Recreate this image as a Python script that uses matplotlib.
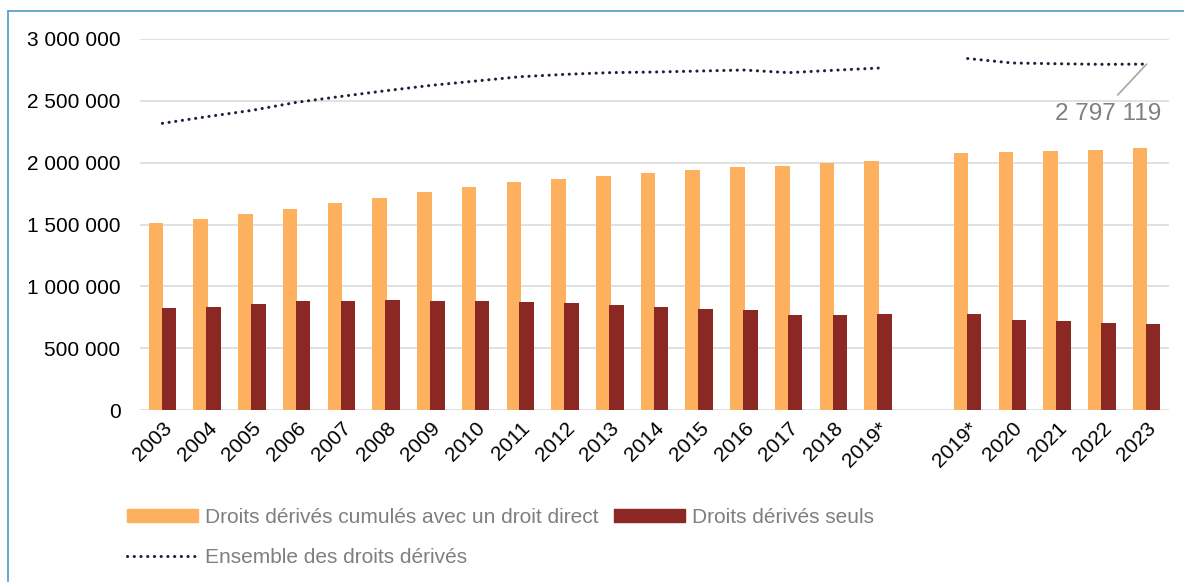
import numpy as np
from matplotlib import pyplot as plt
from matplotlib.ticker import FuncFormatter
from matplotlib.lines import Line2D

plt.rcParams['font.family'] = ['Liberation Sans', 'DejaVu Sans']

# categories (empty slot separates the two series of 2019*)
annees = ['2003', '2004', '2005', '2006', '2007', '2008', '2009', '2010', '2011',
          '2012', '2013', '2014', '2015', '2016', '2017', '2018', '2019*', '',
          '2019*', '2020', '2021', '2022', '2023']

# droits derives cumules avec un droit direct
cumules = [1510000, 1547000, 1585000, 1625000, 1674000, 1714000, 1763000, 1803000,
           1844000, 1868000, 1895000, 1916000, 1941000, 1962000, 1976000, 1995000,
           2013000, np.nan, 2078000, 2084000, 2094000, 2100000, 2119000]

# droits derives seuls
seuls = [822000, 833000, 860000, 879000, 881000, 887000, 881000, 879000, 871000,
         863000, 849000, 833000, 819000, 806000, 766000, 771000, 773000, np.nan,
         779000, 728000, 717000, 701000, 695000]

# ensemble des droits derives
ensemble = [2318000, 2372000, 2423000, 2488000, 2536000, 2582000, 2625000, 2660000,
            2695000, 2714000, 2728000, 2733000, 2741000, 2749000, 2728000, 2747000,
            2765000, np.nan, 2842000, 2806000, 2800000, 2795000, 2797119]

ORANGE = '#FDB05E'
ROUGE = '#8B2824'
NAVY = '#1F1F3C'
GRIS = '#7F7F7F'
DOTS = (0, (0.05, 2.15))

fig = plt.figure(figsize=(11.84, 5.82), dpi=100)
ax = fig.add_axes([140 / 1184, 1 - 410 / 582, 1029 / 1184, 371 / 582])

x = np.arange(len(annees))
w = 0.325
ax.bar(x - 0.145, cumules, w, color=ORANGE, zorder=2)
ax.bar(x + 0.145, seuls, w, color=ROUGE, zorder=3)
ax.plot(x, ensemble, color=NAVY, lw=2.2, linestyle=DOTS,
        dash_capstyle='round', zorder=4)

ax.set_xlim(-0.5, len(annees) - 0.5)
ax.set_ylim(0, 3000000)
ax.set_yticks(np.arange(0, 3000001, 500000))
ax.yaxis.set_major_formatter(FuncFormatter(lambda v, p: f'{v:,.0f}'.replace(',', ' ')))
ax.set_xticks(x)
ax.set_xticklabels(annees, rotation=45, ha='right', va='top', rotation_mode='anchor')
ax.tick_params(axis='both', length=0, labelsize=15, colors='#000000')
ax.tick_params(axis='y', pad=14)
ax.tick_params(axis='x', pad=6)
ax.grid(axis='y', color='#D9D9D9', lw=1.1, zorder=0)
ax.set_axisbelow(True)
for s in ax.spines.values():
    s.set_visible(False)

# data label on the last point
ax.annotate('2 797 119', xy=(x[-1], ensemble[-1]), xytext=(x[-1] + 0.33, 2395000),
            ha='right', va='center', fontsize=17.5, color=GRIS,
            arrowprops=dict(arrowstyle='-', color='#A6A6A6', lw=1.2,
                            shrinkA=5, shrinkB=0, relpos=(0.52, 1.0)))

handles = [plt.Rectangle((0, 0), 1, 1, color=ORANGE),
           Line2D([], [], color=NAVY, lw=2.2, linestyle=DOTS, dash_capstyle='round'),
           plt.Rectangle((0, 0), 1, 1, color=ROUGE)]
labels = ['Droits dérivés cumulés avec un droit direct', 'Ensemble des droits dérivés',
          'Droits dérivés seuls']
leg = fig.legend(handles, labels, ncol=2, loc='upper left',
                 bbox_to_anchor=(127 / 1184, 1 - 508 / 582), frameon=False,
                 fontsize=15, handlelength=3.4, handleheight=0.62, handletextpad=0.35,
                 columnspacing=0.75, labelspacing=1.0, borderpad=0, borderaxespad=0)
for t in leg.get_texts():
    t.set_color(GRIS)

# blue frame around the chart
fig.add_artist(Line2D([8 / 1184, 8 / 1184], [0, 1 - 11 / 582], color='#5BA4C4', lw=1.3))
fig.add_artist(Line2D([8 / 1184, 1], [1 - 11 / 582, 1 - 11 / 582], color='#5BA4C4', lw=1.3))

fig.savefig('out.png', dpi=100)
